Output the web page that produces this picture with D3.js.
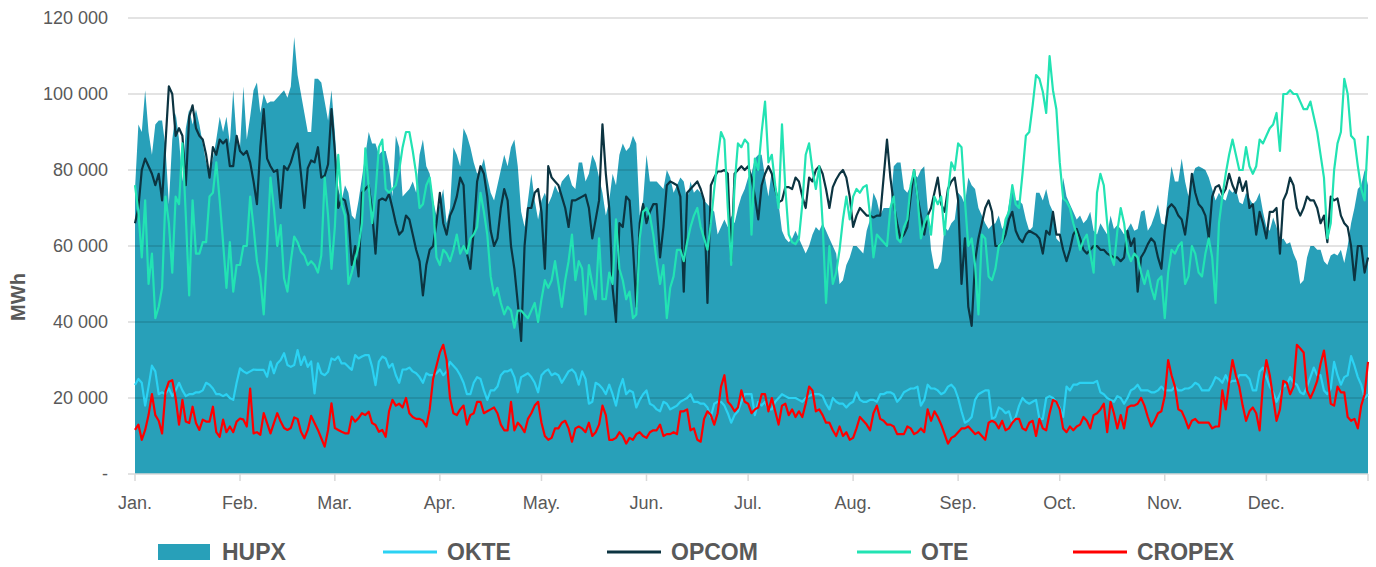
<!DOCTYPE html>
<html>
<head>
<meta charset="utf-8">
<style>
  body { margin: 0; background: #fff; }
  svg { display: block; font-family: "Liberation Sans", Arial, sans-serif; }
  .axis text { fill: #595959; font-size: 18px; }
  .legend text { fill: #595959; font-size: 23px; font-weight: bold; }
  .ytitle { fill: #595959; font-size: 20px; font-weight: bold; }
</style>
</head>
<body>
<svg id="chart" width="1376" height="567"></svg>
<script src="https://cdn.jsdelivr.net/npm/d3@7/dist/d3.min.js"></script>
<script>
// daily traded volume in thousand MWh, 1 Jan .. 31 Dec
const hupx = [75,92,90,101,90,84,92,93,93,86,71,88,95,88,77,91,96,92,96,92,87,82,79,83,88,94,90,94,87,101,88,86,102,88,94,101,
  103,95,100,97.5,98,98,99,100,101,99,102,115,105,100,95,90,90,104,104,103,98,93,101,90,75,72,76,74,68,67,72,78,84,90,87,87,84,85,85,
  81,73,89,86,73,74,75,77,74,84,88,81,79,72,68,71,75,66,70,86,84,81,91,89,86,82,79,80,83,78,74,72,76,80,84,81,86,
  88,81,69,65,72,79,72,67,72,74,71,73,76,74,77,78,79,76,75,82,82,77,79,84,82,78,74,68,72,79,76,84,87,85,86,89,87,
  68,72,84,77,77,77,76,75,80,78,74,76,78,77,72,77,74,75,74,72,71,70,69,63,65,67,65,68,66,70,73,75,78,79,83,84,84,
  78,73,80,76,71,64,62,61,62,64,62,60,58,60,63,65,64,66,64,62,60,58,50,51,55,57,60,60,59,58,64,67,74,72,68,70,70,
  70,81,82,82,75,74,76,79,78,80,81,70,59,54,54,56,65,64,66,67,74,73,71,78,76,75,70,68,66,64.5,65.5,66,68,64.5,66,71,76,
  72,72,71,67,64,65,74,74,72,75,71,69,62,61,78,73,71,69,67,68,66,67,69,64,63,66,64.5,63,68,64.5,65.5,64.5,63,64.5,66,64,64.5,
  69,69.5,64,65.5,68,71,66,65.5,74,81,77,77,83,77,73,78,80.5,81,80.5,80,78,75,72,74,72.5,72,75,74,75,71.5,71,74,72.5,71,
  72,74,69,65,64,67.5,65,61.5,62,60.5,61,58,56,50,51,57,60,60,59,59,56,55,57.5,58,57.5,59,55.5,60,66,70,75,76,80,76];

const okte = [23.4,25,24,18,23,28.5,27,21,21.5,21,22.5,20.5,22,24,22,20.5,21,21,21.5,21.5,22,24,23.5,22.5,21,21,20.5,21,20,19.5,24,27.8,27,26.5,27,27.5,
  27.4,27.4,27.4,25.6,29.6,26.5,29.1,30,31.8,28.7,28.2,28.7,32.6,28.7,30.9,28.2,29.6,21.2,29.1,26.5,26,26.9,30.4,30,30.9,29.1,29.1,28.2,27.4,31.3,30.4,30.9,31.3,31.3,28.2,23.4,29.6,30.9,30.4,
  28,29,26,24,27.5,27.5,28,27,26.5,25.5,24,26.5,26,26,26.5,27.5,26,27,29.5,28.5,27.5,26,24,21,21,24,25.5,25,22,19.5,22,22,23,26,27,27,27.5,
  25.5,21.5,25.5,26,26.5,25.5,24,21.5,26,27,27.5,26,26.5,26,24,25.5,27,27.5,26.5,23.5,27,25,18.5,19,24,23.5,22.5,21,23.5,21,18,22.5,25,21,22,21.5,17.5,
  19.5,21,22,18.5,18,17,16.5,19,18.5,17,17.5,18,19,19.5,20,21,19,19,18.5,18.5,17.5,15,18.5,19,19,18,16,13.5,15.5,16.5,19,21,21,21,15.5,19,18,
  19,17,17,19,20,21,20.5,20,20,20,19.5,19,20,20.5,21,21,21,20.5,18.5,17,20,19,18.5,18.5,17.5,18.5,19,21.5,19.5,19,19,19.5,19.5,19,21,21,21.5,
  21.5,21,19,20,21.5,22,22.5,22.5,23,18,19.5,23.5,22.5,22.5,22,21,21.5,23,23.5,22.5,20,16.5,13.5,14,15,19.5,21,21.5,22,22,14.5,15,17.5,17,16,16.5,13.5,
  15,18,20,19,18.5,19,19.5,14.5,14.5,20,20.5,20,19,17.5,15,23,22,23.5,23.5,24,24,24,24,24,24.5,21.5,21,20,19.5,19,20.5,20,18.5,20,22,22.5,23.5,
  22,22,22,21.5,21.5,22,23,22,22,22,23,22,22,22.5,22.5,23,24,23.5,22,22,22,23.5,25.5,25,24,26,24,24.5,24.5,26,26,26,25,22,
  22,27,28,25.5,23,21.5,19,21,23,23.5,25.5,24,23.5,21.5,21,23,25.5,28,26,26,22,21,22.5,29.5,26,23.5,25.5,26,31,28.5,25.5,23.5,20,21];

const opcom = [66,70,80,83,81,79,76,79,72,87,102,100,89,91,89,76,94,97,91,89,88,84,78,86,84,88,87,88,81,81,89,85,84,85,82,77,
  71,86,96,83,81,79.5,80,70,81,80,82,85,87,79,70,80.5,82.5,82,86,78,78.5,81.5,96,85,70,72.5,72,68,55,60,52,74,75,76,69,58,72,72.5,72,
  73.7,70,66,63,64,68,67,63,59,56,47,55,59,60,66,74,66,63,68,70,73,78,76,58,54,64,77,81,79,73,64,60,62,70,75,72,60,
  54,45,35,60,70,70,74,75,69,54,81,78,77,76,73,70,65,72,72,72.5,73,73.5,70,62,67,72,92,79,70,49,40,66,65,73,72,60,44,
  66,71,66,69,71,71,57,65,76,77,76.5,76,73,48,74,75,76,77,75,72,45,76,78,79.6,79.6,80,79,56,79,80,81,80,81,78,73,67,76,
  79,81,79,75,71.5,72,75.5,75.5,75,78,77,73,70,78,77,80,81,79,75,70,75.5,77.5,79,80,78,73,65,68,70,69,68,68,67.5,68,68,78,88,
  78,71,66,62,63,65,73,80,73,68,63,68,70,74,78,71,69,75,77,78,72,50,62,44,39,56,62,66,70,72,69,60,60,61,63,67,69,
  64,62,61,63,64,63.5,63,62,58,64,63,69,63,63,59,56,59,63,64.5,62,59,58,59,60,60,59,59,58,57.5,57,57,56,57,64,60,62,48,
  57,58.5,60.5,62,61,57,54,64,70,71,70,68,67,63,70,79,74,71,70,68,62,73,75.5,76,73.5,75,79,76,74,78,74.5,77,70,71,
  63,69,66,62,69,69,70,58,72,74,78,76,70,68,70,73,72,72,70,66,68,61,73,72,72.5,68,66,65,60,51,60,60,53,57];

const ote = [76,69,57,72,50,58,41,44,49,73,66,53,73,71,87,68,47,72,58,58,61,61,73,74,82,72,61,49,61,48,55,55,60,60,73,65,
  56,51.5,42,59,78,70,60,65.5,51.5,48,56,62.5,61,58.5,57.5,55,56,55,53,57.5,78,68,54,65,84,71,68,50,53,56.5,60,66,85.7,75.5,66,74,86,88,75,
  74,75,76,80,86,90,90,85,79,70,71,76,78,71,57,55,59,58,56,59,63,58,60,58,62,63,65,74,69,63,52,47,49,45,42,44,43,
  38.5,43,43,42,41,43,45,40,46,51,49,51,56,50,44,51,56,63,51,56,54,42,55,50,46,62,46,46,53,50,67,54,51,46,48,41,42,
  62,69,70,68,63,56,50,55,41,49,52,59,59,56,61,65,68,70,65,62,59,66,75,83,90,88,70,55,76,87,86,88,87,63,83,80,90,
  98,82,84,76,70,92,75,63,61,60.5,62,71,84,87,80,75,81,66,45,60,50,53,59,67,73,67,73,75,74,75.5,76,68,57,63,62,61,60,
  70,73,62,61,65,67,76,80,73,62,66,68,63,73,71,73,63,74,82,80,87,86,72,60,62,55,42,63,62,52,51,54,60,61,67,69,76,
  71,70,79,89,90,97,105,104,100.6,95,110,101,96,82,72.5,71.7,70,66,63,59,61.5,63,58,53,74,79,76,66,57.6,55,64,70,66,58.5,56,58,57,
  53,50,53.5,49,46,51,52,41,53,59,58,60,61,50,52,60,58,53,52,58,62,57,45,66,73,79,84,88,84,80,80,86,81,79,
  81,88,87,89,91,92,95,85,100,100,101,100,100,98,96,96,98,94,90,84,78,62,66,80,87,90,104,100,89,88,81,75,72,89];

const cropex = [11.6,13,9,11.6,15.5,21,15.5,14,10.7,21.7,24.3,24.7,20,13,19.5,13.8,13.4,17.7,13.4,11.6,14.3,13.8,13.8,17.7,11,9.8,14.3,11,12.5,11,13.8,14.6,14.3,12.5,22.5,10.7,
  11,10.3,16,13.4,10.7,13.4,16,13.8,12.1,11.6,12.1,14.9,14.5,11.1,9.4,11.6,15.3,13.4,11.6,9.4,7.2,11.6,18.6,12.1,11.6,11.1,10.7,10.7,15.1,13.8,14.7,16,15.5,16.4,13.4,12.9,11.1,11.6,9.8,
  16.5,19.5,18,18.5,17.5,20,16,15,14.5,14.5,14,12.5,17,25,28.5,32,34,30,20,16,15.5,17,18,13,15.5,16,19,19,16,16.5,17,17.5,16,13,11.5,11.5,19,
  11.5,13.5,12.5,11,14.5,16,18,19,13.5,10,9,9.5,12,12,13.5,14,12,8.5,12,12.5,12,11,13.5,10,11,13,18,15.5,9,9,9.5,11,10,8,9.5,9,10.5,
  11,10,9.5,11,11.5,11.5,13,10,10.5,10.5,11,10.5,16.5,16.5,17,11.5,12,9,8.5,14.5,16.5,15.5,13,16,23,26,19,18,16.5,17.5,22,19,18.5,16,17,17.5,21,
  21,16.5,20,16.5,13,18,18.5,15.5,17,15,16.5,15,18.5,23,22,16.5,17,15.5,13.5,13.5,11.5,10,12.5,10,11,9,9.5,12,15,14,13,11.5,16,18,14.5,14,13,
  13,12.5,10.5,10.5,10.5,12.5,12,10.5,11,12,11,17,14,16.5,15,13,10.5,8,9.5,10,11,12,12,12.5,11.5,10.5,11,10,9,13.5,14,13.5,12,14,11.5,12,13.5,
  14.5,14.5,12,11.5,13.5,14,10,14.5,12,11.5,16,19.5,19,17,12,11,12.5,11.5,12.5,13,15,14,12,15.5,16,17,18.5,11,19,16,12,15.5,12,17.5,18,18,18.5,
  20,18,15,12.5,14,16,16.5,20.5,30,26,23,17,16.5,14.5,12,14,14.5,13.5,13.5,13.5,13.5,12,12.5,12.5,22,17,24,30,26,23,18,14,16.5,17.5,
  16,11.5,24,30,26,20,14,17,24.5,24,21,23,34,33,32,22,20,22,24.5,29,32.5,26,18.5,18,23,21.5,21.5,15,14,14.5,12,18,21,29.5];

const monthLabels = ["Jan.", "Feb.", "Mar.", "Apr.", "May.", "Jun.", "Jul.", "Aug.", "Sep.", "Oct.", "Nov.", "Dec."];
const yTicks = [0, 20000, 40000, 60000, 80000, 100000, 120000];

const series = [
  { name: "OKTE", values: okte, color: "#2bd2f3" },
  { name: "OPCOM", values: opcom, color: "#0c3441" },
  { name: "OTE", values: ote, color: "#22e3b3" },
  { name: "CROPEX", values: cropex, color: "#ff0000" }
];
const hupxColor = "#28a0b9";

// layout
const margin = { top: 18, right: 8, bottom: 93, left: 135 },
  width = 1376 - margin.left - margin.right,
  height = 567 - margin.top - margin.bottom;

const svg = d3.select("#chart");
const g = svg.append("g")
  .attr("transform", "translate(" + margin.left + "," + margin.top + ")");

const days = d3.timeDay.range(new Date(2019, 0, 1), new Date(2020, 0, 1));
const x = d3.scaleTime()
  .domain([days[0], days[days.length - 1]])
  .range([0, width]);
const y = d3.scaleLinear()
  .domain([0, 120000])
  .range([height, 0]);

// HUPX area
const area = d3.area()
  .x(function (d, i) { return x(days[i]); })
  .y0(height)
  .y1(function (d) { return y(d * 1000); });
g.append("path")
  .datum(hupx)
  .attr("fill", hupxColor)
  .attr("d", area);

// gridlines + y labels
const fmt = function (v) {
  return v === 0 ? "-" : d3.format(",")(v).replace(/,/g, " ");
};
const yAxis = g.append("g").attr("class", "axis");
yAxis.selectAll("line")
  .data(yTicks.filter(function (v) { return v > 0; }))
  .enter().append("line")
  .attr("x1", -7)
  .attr("x2", width)
  .attr("y1", function (d) { return y(d); })
  .attr("y2", function (d) { return y(d); })
  .attr("stroke", "#000")
  .attr("stroke-opacity", 0.15)
  .attr("stroke-width", 1.5);
yAxis.selectAll("text")
  .data(yTicks)
  .enter().append("text")
  .attr("x", -27)
  .attr("y", function (d) { return y(d); })
  .attr("dy", "0.35em")
  .attr("text-anchor", "end")
  .text(fmt);

// x axis baseline, month ticks and labels
const months = d3.timeMonth.range(new Date(2019, 0, 1), new Date(2020, 0, 1));
const xAxis = g.append("g").attr("class", "axis")
  .attr("transform", "translate(0," + height + ")");
xAxis.append("line")
  .attr("x1", -7).attr("x2", width)
  .attr("stroke", "#d9d9d9").attr("stroke-width", 1.5);
xAxis.selectAll(".mtick")
  .data(months)
  .enter().append("line")
  .attr("class", "mtick")
  .attr("x1", function (d) { return x(d); })
  .attr("x2", function (d) { return x(d); })
  .attr("y1", 0).attr("y2", 7)
  .attr("stroke", "#d9d9d9").attr("stroke-width", 1.5);
xAxis.append("line")
  .attr("x1", width).attr("x2", width)
  .attr("y1", 0).attr("y2", 7)
  .attr("stroke", "#d9d9d9").attr("stroke-width", 1.5);
xAxis.selectAll("text")
  .data(months)
  .enter().append("text")
  .attr("x", function (d) { return x(d); })
  .attr("y", 35)
  .attr("text-anchor", "middle")
  .text(function (d, i) { return monthLabels[i]; });

// lines
const line = d3.line()
  .x(function (d, i) { return x(days[i]); })
  .y(function (d) { return y(d * 1000); });
series.forEach(function (s) {
  g.append("path")
    .datum(s.values)
    .attr("fill", "none")
    .attr("stroke", s.color)
    .attr("stroke-width", 2.2)
    .attr("stroke-linejoin", "round")
    .attr("d", line);
});

// y title
svg.append("text")
  .attr("class", "ytitle")
  .attr("transform", "translate(25,297) rotate(-90)")
  .attr("text-anchor", "middle")
  .text("MWh");

// legend
const legendItems = [
  { name: "HUPX", color: hupxColor, x: 158, box: true },
  { name: "OKTE", color: series[0].color, x: 383 },
  { name: "OPCOM", color: series[1].color, x: 607 },
  { name: "OTE", color: series[2].color, x: 857 },
  { name: "CROPEX", color: series[3].color, x: 1073 }
];
const legend = svg.append("g").attr("class", "legend");
legendItems.forEach(function (it) {
  if (it.box) {
    legend.append("rect")
      .attr("x", it.x).attr("y", 544)
      .attr("width", 52).attr("height", 16)
      .attr("fill", it.color);
  } else {
    legend.append("line")
      .attr("x1", it.x).attr("x2", it.x + 54)
      .attr("y1", 552).attr("y2", 552)
      .attr("stroke", it.color).attr("stroke-width", 3);
  }
  legend.append("text")
    .attr("x", it.x + (it.box ? 64 : 64))
    .attr("y", 552)
    .attr("dy", "0.35em")
    .text(it.name);
});
</script>
</body>
</html>
